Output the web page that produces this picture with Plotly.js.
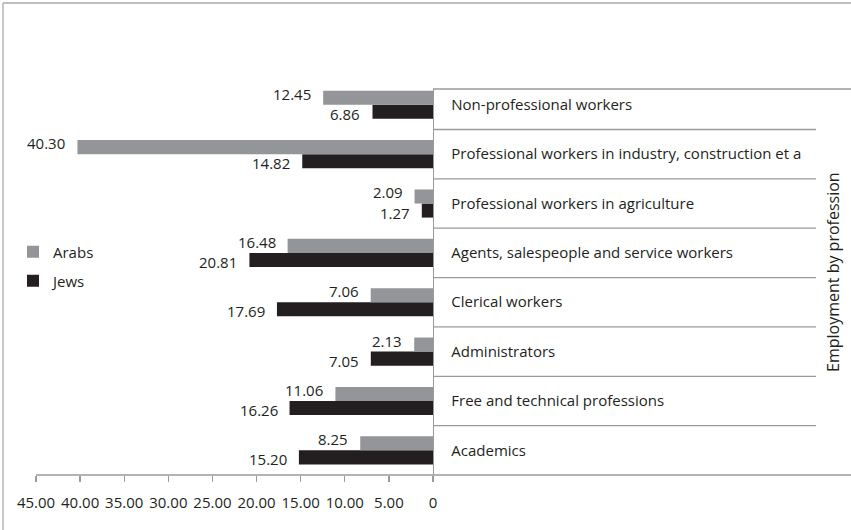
<!DOCTYPE html>
<html>
<head>
<meta charset="utf-8">
<script src="https://cdn.plot.ly/plotly-3.0.1.min.js"></script>
<style>html,body{margin:0;padding:0;background:#fff;}#chart{width:851px;height:530px;}</style>
</head>
<body>
<div id="chart"></div>
<script>
// Categories from bottom to top
var categories = [
  "Academics",
  "Free and technical professions",
  "Administrators",
  "Clerical workers",
  "Agents, salespeople and service workers",
  "Professional workers in agriculture",
  "Professional workers in industry, construction et a",
  "Non-professional workers"
];
var arabs = [8.25, 11.06, 2.13, 7.06, 16.48, 2.09, 40.30, 12.45];
var jews  = [15.20, 16.26, 7.05, 17.69, 20.81, 1.27, 14.82, 6.86];
var xTickVals = [0, 5, 10, 15, 20, 25, 30, 35, 40, 45];
var xTickText = ["0", "5.00", "10.00", "15.00", "20.00", "25.00", "30.00", "35.00", "40.00", "45.00"];
var yTitle = "Employment by profession";

var W = 851, H = 530;
var mL = 36, mR = 0, mT = 89, mB = 55;
var pw = W - mL - mR, ph = H - mT - mB;
function px(x) { return (x - mL) / pw; }
function py(y) { return (H - mB - y) / ph; }

var FONT = "Open Sans, sans-serif";
var FS = 15;
var TXT = "#231f20";
var lineCol = "#9a9a9a";
var domEnd = px(433);
var BARGAP = 0.43;
var half = (1 - BARGAP) / 4; // offset of each bar centre from category centre

var idx = categories.map(function (c, i) { return i; });

var traces = [
  {
    type: "bar", orientation: "h", name: "Jews", y: idx, x: jews,
    marker: { color: "#231f20" }, legend: "legend2", hoverinfo: "x"
  },
  {
    type: "bar", orientation: "h", name: "Arabs", y: idx, x: arabs,
    marker: { color: "#939598" }, legend: "legend", hoverinfo: "x"
  }
];

var annotations = [];
arabs.forEach(function (v, i) {
  annotations.push({
    text: v.toFixed(2), x: v, y: i + half, xref: "x", yref: "y",
    xanchor: "right", yanchor: "middle", xshift: -10, yshift: 4,
    showarrow: false, font: { family: FONT, size: FS, color: TXT }
  });
});
jews.forEach(function (v, i) {
  annotations.push({
    text: v.toFixed(2), x: v, y: i - half, xref: "x", yref: "y",
    xanchor: "right", yanchor: "middle", xshift: -10, yshift: -2,
    showarrow: false, font: { family: FONT, size: FS, color: TXT }
  });
});
annotations.push({
  text: yTitle, xref: "paper", yref: "paper", x: px(833), y: py(272),
  textangle: -90, showarrow: false, xanchor: "center", yanchor: "middle",
  font: { family: FONT, size: 16, color: TXT }
});

var shapes = [];
shapes.push({ type: "line", xref: "paper", yref: "paper", x0: domEnd, x1: 1, y0: 1, y1: 1, line: { color: lineCol, width: 1.3 } });
shapes.push({ type: "line", xref: "paper", yref: "paper", x0: 0, x1: 1, y0: 0, y1: 0, line: { color: lineCol, width: 1.3 } });
for (var k = 0; k < categories.length - 1; k++) {
  shapes.push({ type: "line", xref: "paper", yref: "y", x0: domEnd, x1: px(816), y0: k + 0.5, y1: k + 0.5, line: { color: lineCol, width: 1.3 } });
}
shapes.push({ type: "line", xref: "paper", yref: "paper", x0: px(3), x1: 1.01, y0: py(3), y1: py(3), line: { color: "#aaaaaa", width: 1.3 } });
shapes.push({ type: "line", xref: "paper", yref: "paper", x0: px(3), x1: px(3), y0: py(3), y1: py(535), line: { color: "#aaaaaa", width: 1.3 } });

var layout = {
  width: W, height: H,
  margin: { l: mL, r: mR, t: mT, b: mB },
  paper_bgcolor: "#ffffff", plot_bgcolor: "#ffffff",
  font: { family: FONT, size: FS, color: TXT },
  barmode: "group", bargap: BARGAP, bargroupgap: 0,
  showlegend: true,
  xaxis: {
    domain: [0, domEnd], range: [45, 0], autorange: false,
    tickvals: xTickVals, ticktext: xTickText,
    ticks: "outside", ticklen: 6, tickcolor: lineCol, tickwidth: 1.3,
    ticklabelstandoff: 8,
    showgrid: false, zeroline: false, showline: false,
    tickfont: { family: FONT, size: FS, color: TXT },
    fixedrange: true
  },
  yaxis: {
    side: "right", range: [-0.5, 7.32], autorange: false,
    tickvals: idx, ticktext: categories,
    ticks: "", ticklabelstandoff: 14,
    showgrid: false, zeroline: false,
    showline: true, linecolor: lineCol, linewidth: 1.3,
    tickfont: { family: FONT, size: FS, color: TXT },
    fixedrange: true
  },
  legend: {
    x: px(13), y: py(252), xanchor: "left", yanchor: "middle",
    bgcolor: "rgba(0,0,0,0)", font: { family: FONT, size: FS, color: TXT }
  },
  legend2: {
    x: px(13), y: py(281), xanchor: "left", yanchor: "middle",
    bgcolor: "rgba(0,0,0,0)", font: { family: FONT, size: FS, color: TXT }
  },
  shapes: shapes,
  annotations: annotations
};

Plotly.newPlot("chart", traces, layout, { displayModeBar: false, staticPlot: true });
</script>
</body>
</html>
